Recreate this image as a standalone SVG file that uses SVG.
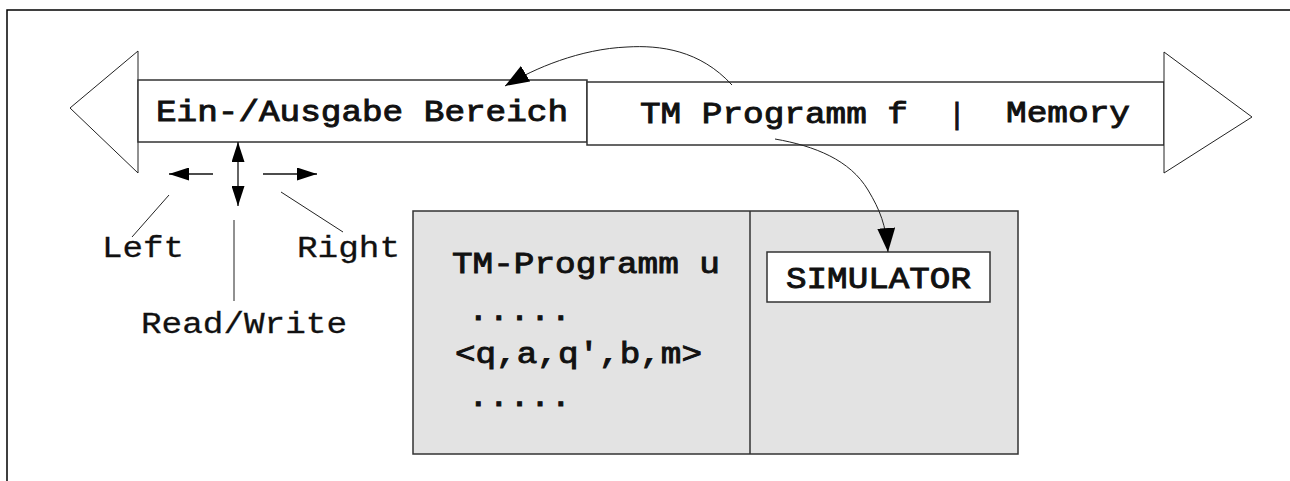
<svg xmlns="http://www.w3.org/2000/svg" width="1290" height="481" viewBox="0 0 1290 481">
<defs>
<style>
.t{font-family:"Liberation Mono","Courier New",monospace;font-size:29px;fill:#111;stroke:#111;stroke-width:0.3}
.b{stroke-width:0.9}
.bar{fill:#fff;stroke:#333;stroke-width:1.5}
.head{fill:#fff;stroke:#222;stroke-width:1}
.thin{fill:none;stroke:#222;stroke-width:1}
.ln{fill:none;stroke:#111;stroke-width:1.3}
</style>
<marker id="ah" markerUnits="userSpaceOnUse" markerWidth="20" markerHeight="13" viewBox="0 0 20 13" refX="20" refY="6.5" orient="auto-start-reverse"><path d="M0,0 L20,6.5 L0,13 z" fill="#000"/></marker>
<marker id="ac" markerUnits="userSpaceOnUse" markerWidth="24" markerHeight="18" viewBox="0 0 24 18" refX="24" refY="9" orient="auto"><path d="M0,0 L24,9 L0,18 z" fill="#000"/></marker>
</defs>
<rect width="1290" height="481" fill="#fff"/>
<path d="M7,481 V10 H1290" fill="none" stroke="#000" stroke-width="1.5"/>

<g id="tape-left">
<polygon class="head" points="138,51 70,108 138,173"/>
<rect class="bar" x="138" y="80" width="449" height="62"/>
<text class="t b" x="156" y="121" textLength="412" lengthAdjust="spacingAndGlyphs">Ein-/Ausgabe Bereich</text>
</g>

<g id="tape-right">
<rect class="bar" x="587" y="82" width="577" height="63"/>
<polygon class="head" points="1164,52 1252,117 1164,173"/>
<text class="t b" x="640" y="123" textLength="268" lengthAdjust="spacingAndGlyphs">TM Programm f</text>
<text class="t b" x="957" y="124" text-anchor="middle">|</text>
<text class="t b" x="1006" y="122" textLength="124" lengthAdjust="spacingAndGlyphs">Memory</text>
</g>

<g id="head-moves">
<text class="t" x="102" y="257" textLength="82" lengthAdjust="spacingAndGlyphs">Left</text>
<text class="t" x="297" y="257" textLength="103" lengthAdjust="spacingAndGlyphs">Right</text>
<text class="t" x="141" y="333" textLength="206" lengthAdjust="spacingAndGlyphs">Read/Write</text>
</g>

<g id="machine">
<rect x="413" y="211" width="605" height="243" fill="#e3e3e3" stroke="#333" stroke-width="1.5"/>
<line x1="750" y1="211" x2="750" y2="454" stroke="#333" stroke-width="1.5"/>
<text class="t b" x="452" y="273" textLength="268" lengthAdjust="spacingAndGlyphs">TM-Programm u</text>
<text class="t b" x="468" y="320" textLength="103" lengthAdjust="spacingAndGlyphs">.....</text>
<text class="t b" x="455" y="363" textLength="247" lengthAdjust="spacingAndGlyphs">&lt;q,a,q',b,m&gt;</text>
<text class="t b" x="468" y="406" textLength="103" lengthAdjust="spacingAndGlyphs">.....</text>
</g>

<g id="simulator">
<rect x="767" y="252" width="223" height="50" fill="#fff" stroke="#333" stroke-width="1.5"/>
<text class="t b" x="786" y="288" textLength="185" lengthAdjust="spacingAndGlyphs">SIMULATOR</text>
</g>

<g id="connectors">
<line class="ln" x1="238" y1="142" x2="238" y2="206" marker-start="url(#ah)" marker-end="url(#ah)"/>
<line class="ln" x1="213" y1="174" x2="169" y2="174" marker-end="url(#ah)"/>
<line class="ln" x1="263" y1="174" x2="317" y2="174" marker-end="url(#ah)"/>
<line class="thin" x1="169" y1="195" x2="132" y2="237"/>
<line class="thin" x1="281" y1="192" x2="343" y2="232"/>
<line class="thin" x1="234" y1="220" x2="234" y2="301"/>
<path class="thin" d="M732,85 C700,50 660,45 627,47 C580,49 535,68 505,86" marker-end="url(#ac)"/>
<path class="thin" d="M775,139 C815,146 850,160 868,190 C880,210 886,225 888,252" marker-end="url(#ac)"/>
</g>
</svg>
